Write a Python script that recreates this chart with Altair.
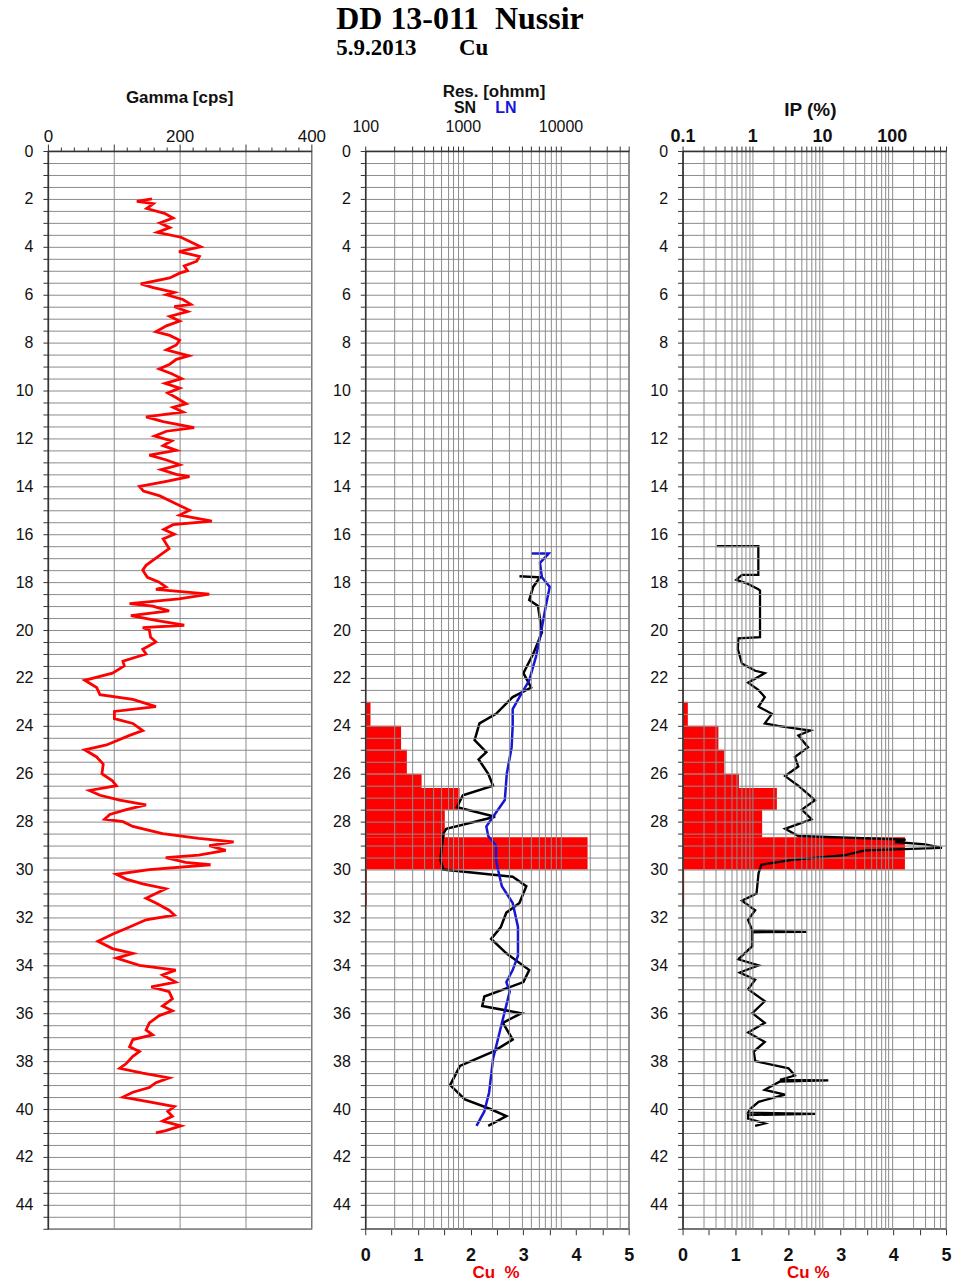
import altair as alt
import pandas as pd

# ---------------- data ----------------
# Gamma log (depth m, counts per second)
gamma_depth = [2.0, 2.1, 2.2, 2.4, 2.6, 2.8, 3.0, 3.2, 3.4, 3.6, 3.8, 4.0, 4.2, 4.4, 4.6, 4.8, 5.0, 5.1, 5.3,
               5.55, 5.7, 5.9, 6.0, 6.2, 6.4, 6.5, 6.7, 6.9, 7.1, 7.3, 7.55, 7.7, 7.9, 8.1, 8.3, 8.55, 8.7,
               8.9, 9.1, 9.3, 9.5, 9.7, 9.9, 10.1, 10.3, 10.55, 10.7, 10.9, 11.1, 11.3, 11.55, 11.7, 11.9,
               12.1, 12.3, 12.5, 12.7, 12.9, 13.1, 13.3, 13.5, 13.6, 13.8, 14.0, 14.2, 14.4, 14.6, 14.8,
               15.0, 15.2, 15.45, 15.6, 15.8, 16.0, 16.2, 16.6, 17.0, 17.3, 17.5, 17.8, 18.0, 18.2, 18.3,
               18.5, 18.7, 18.9, 19.0, 19.2, 19.4, 19.6, 19.8, 19.9, 20.0, 20.3, 20.5, 20.8, 21.0, 21.3,
               21.5, 21.8, 22.1, 22.4, 22.7, 22.9, 23.2, 23.4, 23.7, 23.9, 24.2, 24.4, 24.8, 25.0, 25.3,
               25.6, 26.0, 26.3, 26.5, 26.7, 26.9, 27.1, 27.3, 27.5, 27.7, 27.9, 28.0, 28.2, 28.5, 28.7,
               28.85, 29.0, 29.2, 29.4, 29.5, 29.7, 29.8, 30.0, 30.2, 30.4, 30.6, 30.8, 31.0, 31.2, 31.4,
               31.7, 31.9, 32.1, 32.4, 32.7, 33.0, 33.3, 33.5, 33.7, 34.0, 34.2, 34.4, 34.7, 34.9, 35.1,
               35.4, 35.7, 35.9, 36.1, 36.4, 36.7, 36.9, 37.1, 37.4, 37.6, 37.8, 38.1, 38.3, 38.5, 38.7,
               38.9, 39.1, 39.3, 39.5, 39.7, 39.9, 40.1, 40.3, 40.5, 40.7, 40.9, 41.0]
gamma_cps = [158, 135, 160, 150, 177, 190, 170, 185, 166, 202, 217, 232, 199, 230, 226, 207, 212, 200, 185,
             141, 160, 192, 180, 205, 217, 192, 212, 185, 200, 180, 164, 185, 200, 195, 180, 214, 195,
             185, 169, 188, 203, 178, 200, 182, 195, 210, 190, 205, 149, 175, 222, 180, 162,
             188, 175, 195, 154, 180, 200, 172, 195, 215, 178, 139, 145, 170, 185, 200,
             215, 200, 249, 190, 176, 192, 175, 184, 164, 149, 144, 151, 169, 179, 164,
             245, 199, 124, 159, 184, 126, 164, 207, 144, 154, 156, 164, 144, 149, 114,
             116, 98, 56, 74, 79, 129, 164, 101, 101, 129, 144, 124, 89, 56, 74,
             84, 82, 98, 104, 63, 79, 109, 149, 119, 94, 86, 114, 129, 174, 229,
             282, 245, 270, 229, 179, 209, 247, 154, 104, 119, 144, 179, 164, 149, 164,
             184, 192, 149, 124, 98, 76, 98, 129, 104, 139, 194, 174, 194, 157, 184,
             189, 174, 189, 169, 154, 149, 159, 129, 124, 139, 129, 119, 109, 144, 184,
             164, 154, 129, 114, 154, 192, 182, 189, 174, 202, 179, 164]

# Short normal resistivity (ohmm)
sn_depth = [17.75, 17.8, 18.2, 18.75, 19.0, 20.1, 21.0, 21.8, 22.4, 22.8, 23.5, 23.9, 24.6, 25.1, 25.4,
            26.0, 26.5, 26.9, 27.4, 27.8, 28.3, 28.5, 29.6, 30.0, 30.3, 30.7, 31.4, 31.8, 32.4, 32.9,
            33.5, 34.2, 34.7, 35.3, 35.7, 36.0, 36.4, 37.1, 37.6, 38.2, 39.0, 39.6, 40.0, 40.3, 40.7]
sn_res = [3800, 6170, 5250, 4790, 5890, 6460, 5250, 4170, 5010, 3240, 2190, 1480, 1320, 1740, 1450,
          1820, 2040, 1000, 870, 2140, 676, 631, 589, 631, 3240, 4470, 3800, 2790, 2450, 1950,
          2790, 4790, 4170, 1660, 1580, 3980, 2570, 3240, 2040, 933, 741, 1050, 1910, 2790, 1820]

# Long normal resistivity (ohmm)
ln_depth = [16.8, 16.8, 17.2, 17.8, 18.2, 19.0, 20.1, 21.1, 22.1, 22.8, 23.3, 24.0, 24.9, 26.0, 27.1,
            27.8, 28.2, 28.6, 29.0, 29.6, 30.0, 30.7, 31.4, 32.4, 33.6, 34.2, 34.7, 35.1, 36.5, 37.9,
            39.3, 40.1, 40.7]
ln_res = [5010, 7590, 6170, 6460, 7760, 7080, 6310, 5620, 4790, 3800, 3240, 3240, 3160, 2820, 2690,
          2040, 1740, 1820, 2190, 2190, 2290, 2510, 3240, 3670, 3670, 3240, 2790, 3020, 2480, 2040,
          1860, 1660, 1380]

# Induced polarisation (%)
ip_depth = [16.5, 16.5, 17.7, 17.7, 17.9, 18.05, 18.3, 18.35, 20.3, 20.35, 20.8, 21.4, 21.7, 21.8, 22.2,
            22.5, 22.8, 23.2, 23.5, 23.9, 24.0, 24.2, 24.4, 24.9, 25.3, 25.7, 26.1, 26.5, 27.1, 27.5,
            27.9, 28.3, 28.6, 28.75, 28.85, 28.95, 29.1, 29.2, 29.4, 29.6, 29.8, 30.15, 31.0, 31.3,
            31.7, 32.1, 32.55, 32.6, 32.62, 33.2, 33.75, 34.0, 34.3, 34.6, 35.0, 35.5, 36.0, 36.4,
            36.8, 37.2, 37.6, 38.0, 38.3, 38.6, 38.78, 38.8, 38.85, 39.2, 39.4, 39.7, 40.0, 40.15,
            40.2, 40.25, 40.4, 40.6, 40.7]
ip_pct = [0.31, 1.22, 1.22, 0.71, 0.59, 0.83, 1.22, 1.29, 1.29, 0.63, 0.62, 0.71, 1.10, 1.51, 0.87,
          1.22, 1.51, 1.23, 1.91, 1.51, 2.34, 6.76, 4.57, 6.31, 4.07, 4.57, 2.95, 4.57, 7.94, 5.13,
          7.08, 2.95, 4.57, 158, 112, 302, 525, 41.7, 21.4, 3.72, 1.35, 1.23, 1.15, 0.71,
          1.10, 0.87, 1.0, 6.0, 1.0, 1.0, 0.63, 1.23, 0.66, 1.10, 0.87, 1.51, 1.0, 1.51,
          0.87, 1.51, 1.05, 1.10, 3.31, 4.07, 2.5, 12.3, 2.5, 1.51, 2.95, 1.23, 0.93, 0.87,
          7.94, 0.87, 0.87, 1.51, 1.10]

# Copper assays (interval top, interval bottom, Cu %)
cu_top = [23.0, 24.0, 25.0, 26.0, 26.6, 27.5, 28.65, 30.0]
cu_bottom = [24.0, 25.0, 26.0, 26.6, 27.5, 28.65, 30.0, 31.5]
cu_pct = [0.1, 0.68, 0.79, 1.07, 1.79, 1.51, 4.22, 0.03]

# Axis tick values
depth_ticks = [i / 2 for i in range(91)]
gamma_ticks = list(range(0, 401, 20))
res_ticks = [m * 10 ** e for e in (2, 3) for m in range(1, 10)] + [10000, 20000, 30000, 40000, 50000]
ip_ticks = [round(m * 10 ** e, 3) for e in (-1, 0, 1) for m in range(1, 10)] + [100, 200, 300, 400, 500, 600]
cu_ticks = [i / 2 for i in range(11)]

# ---------------- styling ----------------
SANS = "Liberation Sans"
SERIF = "Liberation Serif"
W, H = 264, 1080
GRID = "#8c8c8c"
AXIS = "#333333"
NB = "\u00a0"

gamma_df = pd.DataFrame({"depth": gamma_depth, "val": gamma_cps, "i": range(len(gamma_depth))})
sn_df = pd.DataFrame({"depth": sn_depth, "val": sn_res, "i": range(len(sn_depth))})
ln_df = pd.DataFrame({"depth": ln_depth, "val": ln_res, "i": range(len(ln_depth))})
ip_df = pd.DataFrame({"depth": ip_depth, "val": ip_pct, "i": range(len(ip_depth))})
cu_df = pd.DataFrame({"top": cu_top, "bottom": cu_bottom, "cu": cu_pct, "zero": [0.0] * len(cu_pct)})
one = pd.DataFrame({"a": [0]})

depth_scale = alt.Scale(domain=[0, 45], reverse=True, nice=False, zero=False)


def depth_axis(z):
    return alt.Axis(values=depth_ticks, title=None, grid=True, gridColor=GRID, gridWidth=1,
                    labelExpr="datum.value % 2 === 0 && datum.value <= 44 ? format(datum.value, 'd') : ''",
                    domainColor=AXIS, domainWidth=1.5, tickColor=AXIS, tickSize=5, labelPadding=10,
                    labelFlush=False, labelFont=SANS, labelFontSize=16, labelColor="#111111", zindex=z)


def y_enc(field="depth", z=0):
    return alt.Y(f"{field}:Q", scale=depth_scale, axis=depth_axis(z))


def label(text, x, y, size, color="#111111", weight="bold", font=SANS, align="center"):
    return alt.Chart(one).mark_text(text=text, font=font, fontSize=size, fontWeight=weight,
                                    color=color, align=align, baseline="alphabetic").encode(
        x=alt.value(x), y=alt.value(y))


def cu_layer():
    return alt.Chart(cu_df).mark_rect(color="#ff0000").encode(
        x=alt.X("zero:Q", scale=alt.Scale(domain=[0, 5], nice=False, zero=False),
                axis=alt.Axis(orient="bottom", values=cu_ticks, title=None, grid=False,
                              labelExpr="datum.value % 1 === 0 ? format(datum.value, 'd') : ''",
                              domainColor=AXIS, domainWidth=1.5, tickColor=AXIS, tickSize=6,
                              labelPadding=12, labelFlush=False, labelFont=SANS, labelFontSize=18,
                              labelFontWeight="bold", labelColor="#111111")),
        x2="cu:Q",
        y=y_enc("top", 1),
        y2="bottom:Q",
    )


# ---------------- panel 1: gamma ----------------
gamma_axis = alt.Axis(orient="top", values=gamma_ticks, title=None, grid=True, gridColor=GRID,
                      gridOpacity={"condition": {"test": "datum.value % 100 === 0", "value": 1}, "value": 0},
                      tickSize={"condition": {"test": "datum.value % 100 === 0", "value": 7}, "value": 4},
                      labelExpr="datum.value % 200 === 0 ? datum.label : ''",
                      domainColor=AXIS, domainWidth=1.5, tickColor=AXIS, labelPadding=-1,
                      labelFlush=False, labelFont=SANS, labelFontSize=17, labelColor="#111111")
gamma_line = alt.Chart(gamma_df).mark_line(color="#ff0000", strokeWidth=2.8).encode(
    x=alt.X("val:Q", scale=alt.Scale(domain=[0, 400], nice=False, zero=False), axis=gamma_axis),
    y=y_enc(),
    order="i:Q",
)
panel1 = alt.layer(
    gamma_line,
    label("Gamma [cps]", 132, -48, 17),
).properties(width=W, height=H)

# ---------------- panel 2: resistivity ----------------
res_axis = alt.Axis(orient="top", values=res_ticks, title=None, grid=True, gridColor=GRID,
                    labelExpr="indexof([100, 1000, 10000], datum.value) >= 0 ? format(datum.value, 'd') : ''",
                    domainColor=AXIS, domainWidth=1.5, tickColor=AXIS, tickSize=5, labelPadding=12,
                    labelFlush=False, labelFont=SANS, labelFontSize=16, labelColor="#111111", zindex=1)
res_scale = alt.Scale(type="log", domain=[100, 50000], nice=False)
sn_line = alt.Chart(sn_df).mark_line(color="#000000", strokeWidth=2.5).encode(
    x=alt.X("val:Q", scale=res_scale, axis=res_axis), y=y_enc(z=1), order="i:Q")
ln_line = alt.Chart(ln_df).mark_line(color="#1616d8", strokeWidth=2.5).encode(
    x=alt.X("val:Q", scale=res_scale, axis=res_axis), y=y_enc(z=1), order="i:Q")
panel2 = alt.layer(
    cu_layer(),
    alt.layer(sn_line, ln_line),
    label("Res. [ohmm]", 129, -54, 17),
    label("SN", 100, -38, 16),
    label("LN", 141, -38, 16, color="#1616d8"),
    label("DD 13-011" + NB + NB + "Nussir", -29, -122, 32, color="#000000", font=SERIF, align="left"),
    label("5.9.2013", -29, -96, 23, color="#000000", font=SERIF, align="left"),
    label("Cu", 94, -96, 23, color="#000000", font=SERIF, align="left"),
    label("Cu" + NB + NB + "%", 131, 1129, 17, color="#ee0000"),
).resolve_scale(x="independent").properties(width=W, height=H)

# ---------------- panel 3: IP ----------------
ip_axis = alt.Axis(orient="top", values=ip_ticks, title=None, grid=True, gridColor=GRID,
                   labelExpr="abs(log(datum.value) / LN10 - round(log(datum.value) / LN10)) < 1e-6 ? format(datum.value, '~g') : ''",
                   domainColor=AXIS, domainWidth=1.5, tickColor=AXIS, tickSize=5, labelPadding=1,
                   labelFlush=False, labelFont=SANS, labelFontSize=18, labelFontWeight="bold",
                   labelColor="#111111", zindex=1)
ip_line = alt.Chart(ip_df).mark_line(color="#000000", strokeWidth=2.3).encode(
    x=alt.X("val:Q", scale=alt.Scale(type="log", domain=[0.1, 600], nice=False), axis=ip_axis),
    y=y_enc(z=1), order="i:Q")
panel3 = alt.layer(
    cu_layer(),
    ip_line,
    label("IP (%)", 128, -35, 19),
    label("Cu %", 126, 1129, 17, color="#ee0000"),
).resolve_scale(x="independent").properties(width=W, height=H)

chart = alt.hconcat(panel1, panel2, panel3, spacing=54, bounds="flush").properties(
    padding={"left": 14, "top": 1, "right": 5, "bottom": 0}
).configure_view(stroke="#555555", strokeWidth=1.2)

chart.save("out.html", embed_options={"renderer": "svg", "actions": False})
